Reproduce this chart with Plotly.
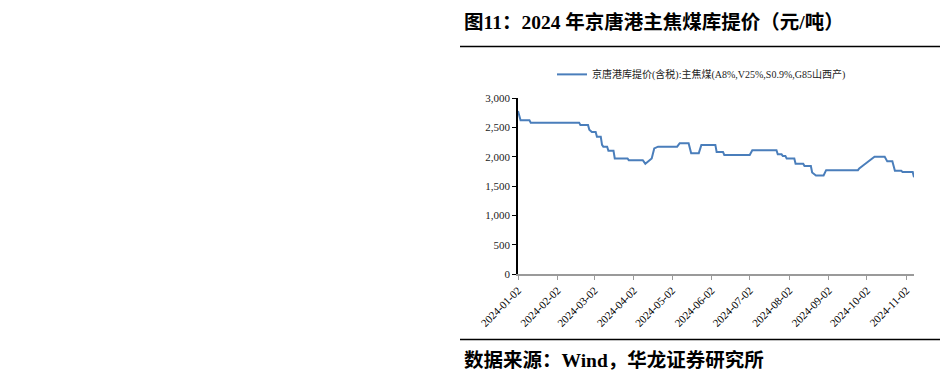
import plotly.graph_objects as go

# ---- data ----
dates = [
    "2024-01-02", "2024-01-04", "2024-01-11", "2024-01-12", "2024-02-19", "2024-02-20",
    "2024-02-26", "2024-02-27", "2024-02-29", "2024-03-03", "2024-03-04", "2024-03-07",
    "2024-03-08", "2024-03-09", "2024-03-12", "2024-03-13", "2024-03-17", "2024-03-18",
    "2024-03-28", "2024-03-29", "2024-04-09", "2024-04-11", "2024-04-16", "2024-04-18",
    "2024-04-21", "2024-05-06", "2024-05-08", "2024-05-15", "2024-05-17", "2024-05-23",
    "2024-05-25", "2024-06-05", "2024-06-06", "2024-06-11", "2024-06-12", "2024-07-02",
    "2024-07-04", "2024-07-23", "2024-07-24", "2024-07-27", "2024-07-28", "2024-07-30",
    "2024-07-31", "2024-08-06", "2024-08-07", "2024-08-13", "2024-08-14", "2024-08-19",
    "2024-08-20", "2024-08-23", "2024-08-29", "2024-08-31", "2024-09-25", "2024-09-26",
    "2024-09-29", "2024-10-08", "2024-10-16", "2024-10-18", "2024-10-22", "2024-10-24",
    "2024-10-29", "2024-10-30", "2024-11-07", "2024-11-08",
]
prices = [
    2780, 2620, 2620, 2580, 2580, 2540,
    2540, 2460, 2420, 2420, 2340, 2340,
    2200, 2170, 2170, 2100, 2100, 1970,
    1970, 1940, 1940, 1880, 1970, 2140,
    2170, 2170, 2230, 2230, 2060, 2060,
    2200, 2200, 2080, 2080, 2030, 2030,
    2110, 2110, 2040, 2040, 2010, 2010,
    1970, 1970, 1880, 1880, 1840, 1840,
    1730, 1680, 1680, 1770, 1770, 1800,
    1850, 2000, 2000, 1920, 1920, 1760,
    1760, 1740, 1740, 1650,
]
series_name = "京唐港库提价(含税):主焦煤(A8%,V25%,S0.9%,G85山西产)"
tick_dates = ["2024-01-02", "2024-02-02", "2024-03-02", "2024-04-02", "2024-05-02",
              "2024-06-02", "2024-07-02", "2024-08-02", "2024-09-02", "2024-10-02",
              "2024-11-02"]
y_ticks = [0, 500, 1000, 1500, 2000, 2500, 3000]
title_text = "图11：2024 年京唐港主焦煤库提价（元/吨）"
source_text = "数据来源：Wind，华龙证券研究所"

SERIF = "Liberation Serif, Times New Roman, Noto Sans CJK SC, serif"
BOLD = "Liberation Serif, Noto Sans CJK SC, serif"

# the page body adds an 8px margin; compensate so the figure lands where
# the reference has it
OFF = 8
W, H = 948 - OFF, 391 - OFF
L, R = 518 - OFF, 914 - OFF
T, B = 97.7 - OFF, 274.3 - OFF
pw, ph = R - L, B - T


def px(x):
    return (x - OFF - L) / pw


def py(y):
    return (B - (y - OFF)) / ph


fig = go.Figure()
fig.add_trace(go.Scatter(
    x=dates, y=prices, mode="lines", name=series_name,
    line=dict(color="#4A7EBB", width=2),
    showlegend=True,
))

fig.update_layout(
    width=W, height=H,
    margin=dict(l=L, r=W - R, t=T, b=H - B, pad=0),
    paper_bgcolor="white", plot_bgcolor="white",
    font=dict(family=SERIF, color="#000000", size=11),
    showlegend=True,
    legend=dict(
        x=px(552), y=py(74), xanchor="left", yanchor="middle",
        orientation="h", font=dict(size=10, family=SERIF, color="#222222"),
        bgcolor="rgba(0,0,0,0)", itemwidth=30, tracegroupgap=0,
    ),
    xaxis=dict(
        type="date", range=["2024-01-02", "2024-11-08"],
        tickvals=tick_dates, tickformat="%Y-%m-%d", tickangle=-45,
        showgrid=False, zeroline=False,
        showline=True, linecolor="#9a9a9a", linewidth=1.5,
        ticks="outside", ticklen=4, tickcolor="#9a9a9a",
        tickfont=dict(size=11, family=SERIF, color="#000000"),
    ),
    yaxis=dict(
        range=[0, 3000], tickvals=y_ticks, tickformat=",d",
        showgrid=False, zeroline=False,
        showline=True, linecolor="#000000", linewidth=1.5,
        ticks="outside", ticklen=4, tickcolor="#000000",
        tickfont=dict(size=11, family=SERIF, color="#222222"),
    ),
)

# title and source text
fig.add_annotation(
    text="<b>" + title_text + "</b>", xref="paper", yref="paper",
    x=px(462), y=py(21), xanchor="left", yanchor="middle", showarrow=False,
    font=dict(size=19.5, family=BOLD, color="#000000"),
)
fig.add_annotation(
    text="<b>" + source_text + "</b>", xref="paper", yref="paper",
    x=px(462), y=py(361), xanchor="left", yanchor="middle", showarrow=False,
    font=dict(size=19.5, family=BOLD, color="#000000"),
)
# separator rules
fig.add_shape(type="line", xref="paper", yref="paper",
              x0=px(460), x1=px(945), y0=py(46), y1=py(46),
              line=dict(color="#000000", width=1.5))
fig.add_shape(type="line", xref="paper", yref="paper",
              x0=px(460), x1=px(945), y0=py(340), y1=py(340),
              line=dict(color="#000000", width=1.5))

fig.write_html("out.html")
